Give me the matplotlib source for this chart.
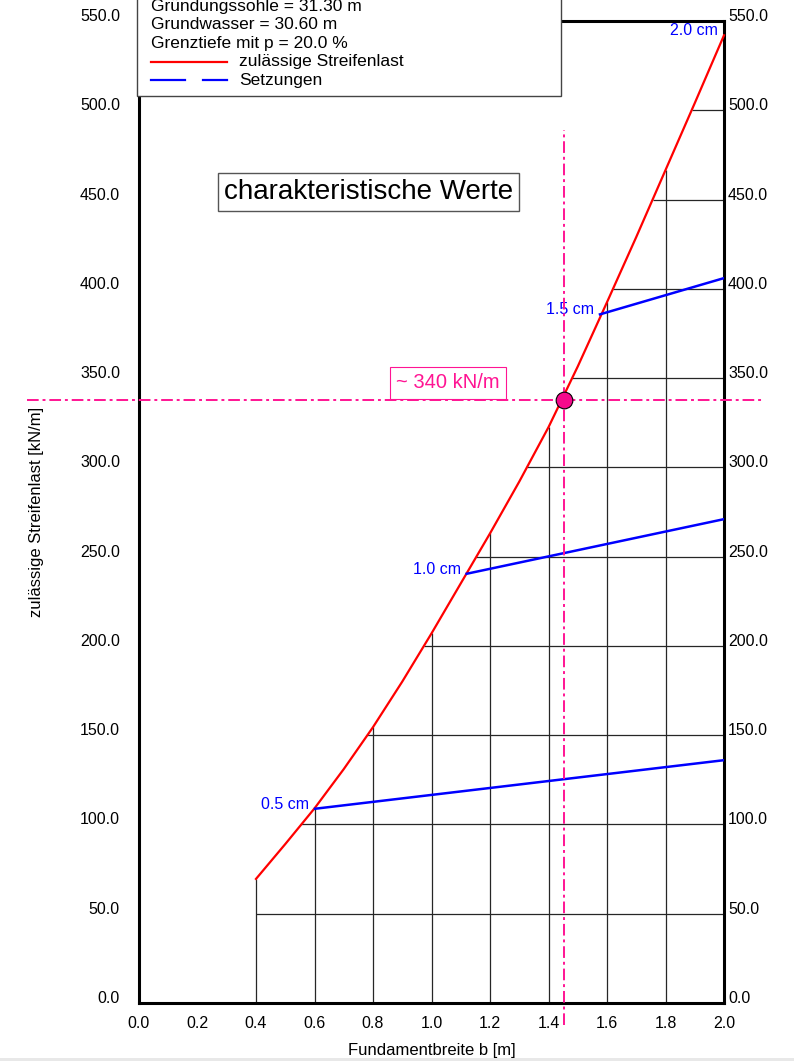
import numpy as np
import matplotlib
matplotlib.use("Agg")
import matplotlib.pyplot as plt
from matplotlib.lines import Line2D
from matplotlib.patches import Rectangle
from matplotlib.ticker import FormatStrFormatter

plt.rcParams['font.family'] = ['Liberation Sans', 'DejaVu Sans']

# zulässige Streifenlast über der Fundamentbreite
b_curve = [0.4, 0.5, 0.6, 0.7, 0.8, 0.9, 1.0, 1.1, 1.2, 1.3, 1.4, 1.5,
           1.6, 1.7, 1.8, 1.9, 2.0]
q_curve = [69.5, 89, 109, 131, 154.5, 180, 207, 235, 263, 292, 322.5, 356.5,
           392.5, 429, 466.5, 504, 542]

# Setzungslinien: Startpunkt auf der Kurve, Endwert bei b = 2.0 m
s_labels = ['0.5 cm', '1.0 cm', '1.5 cm', '2.0 cm']
s_start_b = [0.602, 1.12, 1.576, 2.0]
s_start_q = [108.8, 240.4, 385.7, 542]
s_end_q = [136, 271, 406, 542]

read_b = 1.452
read_q = 338
read_label = '~ 340 kN/m'

x_ticks = [0.0, 0.2, 0.4, 0.6, 0.8, 1.0, 1.2, 1.4, 1.6, 1.8, 2.0]
y_ticks = [0, 50, 100, 150, 200, 250, 300, 350, 400, 450, 500, 550]
grid_b = [0.4, 0.6, 0.8, 1.0, 1.2, 1.4, 1.6, 1.8]
grid_q = [50, 100, 150, 200, 250, 300, 350, 400, 450, 500]

info_lines = ['Gründungssohle = 31.30 m',
              'Grundwasser = 30.60 m',
              'Grenztiefe mit p = 20.0 %']

W, H = 794, 1061
fig = plt.figure(figsize=(W / 100, H / 100), dpi=100)


def fx(px):
    return px / W


def fy(py):
    return 1 - py / H


ax = fig.add_axes([fx(139), fy(1003), 585 / W, 982 / H])
ax.set_xlim(0, 2.0)
ax.set_ylim(0, 550)

pink = '#ff1493'

# Treppen-Raster: nur unterhalb bzw. rechts der Kurve
ax.vlines(grid_b, 0, np.interp(grid_b, b_curve, q_curve),
          colors='#262626', lw=0.9, zorder=1)
ax.hlines(grid_q, np.interp(grid_q, q_curve, b_curve), 2.0,
          colors='#262626', lw=0.9, zorder=1)

ax.plot(b_curve, q_curve, color='red', lw=1.6, zorder=3, clip_on=False,
        solid_joinstyle='round')

for lab, b0, q0, q1 in zip(s_labels, s_start_b, s_start_q, s_end_q):
    ax.plot([b0, 2.0], [q0, q1], color='#0000ff', lw=1.8, zorder=3)
    ax.annotate(lab, (b0, q0), xytext=(-4.3, 3.2), textcoords='offset points',
                ha='right', va='center', color='#0000ff', fontsize=11.5)

# Ablesung
dash = (6, 2, 1.5, 2)
ax.plot([read_b, read_b], [-12.3, 489], color=pink, lw=1.4,
        dashes=dash, clip_on=False, zorder=4)
ax.plot([-0.383, 2.13], [read_q, read_q], color=pink, lw=1.4,
        dashes=dash, clip_on=False, zorder=4)
ax.plot(read_b, read_q, 'o', ms=12, mfc='#f50a8c', mec='black', mew=0.8,
        zorder=6, clip_on=False)
ax.text(0.528, 0.6314, read_label, transform=ax.transAxes, ha='center',
        va='center', color=pink, fontsize=14.5, zorder=5,
        bbox=dict(boxstyle='square,pad=0.32', fc='white', ec=pink, lw=0.8))

ax.text(0.3923, 0.826, 'charakteristische Werte', transform=ax.transAxes,
        ha='center', va='center', fontsize=20, zorder=5,
        bbox=dict(boxstyle='square,pad=0.22', fc='white', ec='#555555', lw=1))

for s in ax.spines.values():
    s.set_linewidth(2.2)
    s.set_color('black')

ax.set_xticks(x_ticks)
ax.set_yticks(y_ticks)
ax.xaxis.set_major_formatter(FormatStrFormatter('%.1f'))
ax.yaxis.set_major_formatter(FormatStrFormatter('%.1f'))
ax.tick_params(axis='x', length=0, pad=9.5, labelsize=11.5)
ax.tick_params(axis='y', length=0, pad=13.7, labelsize=11.5)

ax2 = ax.twinx()
ax2.set_ylim(0, 550)
ax2.set_yticks(y_ticks)
ax2.yaxis.set_major_formatter(FormatStrFormatter('%.1f'))
ax2.tick_params(axis='y', length=0, pad=2.9, labelsize=11.5)
for s in ax2.spines.values():
    s.set_visible(False)

for lab in ax.get_yticklabels() + ax2.get_yticklabels():
    lab.set_va('baseline')

ax.set_xlabel('Fundamentbreite b [m]', fontsize=12, va='center')
ax.xaxis.set_label_coords(0.5, -(1050 - 1003) / 982)
ax.set_ylabel('zulässige Streifenlast [kN/m]', fontsize=12, va='center')
ax.yaxis.set_label_coords((37 - 139) / 585, 0.5)

# Infokasten oben links
fig.add_artist(Rectangle((fx(137), fy(96)), fx(561) - fx(137), 130 / H,
                         transform=fig.transFigure, fc='white', ec='#444444',
                         lw=1, zorder=10))
for i, txt in enumerate(info_lines):
    fig.text(fx(150.7), fy(6 + 18.7 * i), txt, ha='left', va='center',
             fontsize=12.5, zorder=11)
fig.add_artist(Line2D([fx(150.7), fx(226.7)], [fy(61.5)] * 2,
                      transform=fig.transFigure, color='red', lw=1.6,
                      zorder=11))
for x0, x1 in [(150.7, 185), (202.7, 226.7)]:
    fig.add_artist(Line2D([fx(x0), fx(x1)], [fy(79.5)] * 2,
                          transform=fig.transFigure, color='#0000ff', lw=1.6,
                          zorder=11))
fig.text(fx(239.3), fy(61.5), 'zulässige Streifenlast', ha='left',
         va='center', fontsize=12.5, zorder=11)
fig.text(fx(239.3), fy(80), 'Setzungen', ha='left', va='center',
         fontsize=12.5, zorder=11)

fig.add_artist(Rectangle((0, 0), 1, 3 / H, transform=fig.transFigure,
                         fc='#e8e8e8', ec='none', zorder=12))

fig.savefig('out.png', dpi=100)
